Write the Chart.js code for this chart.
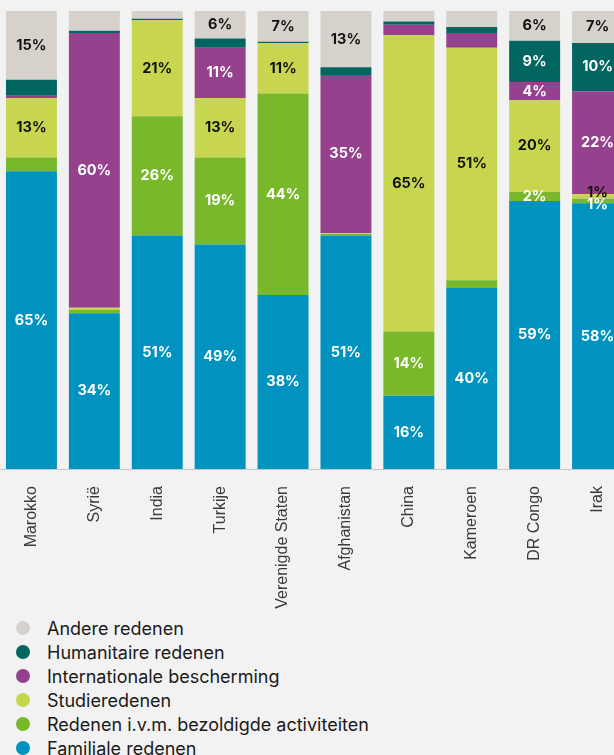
<!DOCTYPE html>
<html>
<head>
<meta charset="utf-8">
<script src="https://cdn.jsdelivr.net/npm/chart.js@4.4.1/dist/chart.umd.min.js"></script>
<style>
    html, body { margin: 0; padding: 0; background: #f2f2f2; overflow: hidden; width: 614px; height: 755px; }
    #wrap { width: 629px; height: 612px; position: relative; }
    #legend { list-style: none; margin: 4px 0 0 0; padding: 0 0 0 16px; font-family: "Inter"; font-size: 18px; color: #1a1a1a; }
    #legend li { height: 24px; display: flex; align-items: center; }
    #legend .dot { width: 14px; height: 14px; border-radius: 50%; margin-right: 17px; flex: none; }
</style>
</head>
<body>
<div id="wrap"><canvas id="chart"></canvas></div>
<ul id="legend"></ul>
<script>
const countries = ["Marokko", "Syrië", "India", "Turkije", "Verenigde Staten", "Afghanistan", "China", "Kameroen", "DR Congo", "Irak"];

// shares in %, bottom of the stack first
const familiale = [65, 34, 51, 49, 38, 51, 16, 39.5, 58.5, 58];
const bezoldigd = [3, 0.7, 26, 19, 44, 0.3, 14, 1.7, 2, 1];
const studie = [13, 0.5, 21, 13, 11, 0.2, 64.7, 50.8, 20, 1];
const internationaal = [0.5, 60, 0, 11, 0, 34.5, 2.3, 3.2, 4, 22.5];
const humanitair = [3.5, 0.5, 0.3, 2, 0.3, 1.7, 0.7, 1.3, 9, 10.5];
const andere = [15, 4.3, 1.7, 6, 6.7, 12.3, 2.3, 3.5, 6.5, 7];

// printed labels (null = none shown)
const familialeLabels = [65, 34, 51, 49, 38, 51, 16, 40, 59, 58];
const bezoldigdLabels = [null, null, 26, 19, 44, null, 14, null, 2, 1];
const studieLabels = [13, null, 21, 13, 11, null, 65, 51, 20, 1];
const internationaalLabels = [null, 60, null, 11, null, 35, null, null, 4, 22];
const humanitairLabels = [null, null, null, null, null, null, null, null, 9, 10];
const andereLabels = [15, null, null, 6, 7, 13, null, null, 6, 7];

const segmentLabels = {
    id: "segmentLabels",
    afterDatasetsDraw(chart) {
        const ctx = chart.ctx;
        ctx.save();
        ctx.font = "700 14.5px Inter";
        ctx.textAlign = "center";
        ctx.textBaseline = "middle";
        for (let i = 0; i < countries.length; i++) {
            let items = [];
            chart.data.datasets.forEach((ds, d) => {
                const v = ds.printed[i];
                if (v === null) return;
                const bar = chart.getDatasetMeta(d).data[i];
                items.push({ x: bar.x, y: (bar.y + bar.base) / 2, text: v + "%", color: ds.labelColor });
            });
            // keep labels from piling on each other
            items.sort((a, b) => a.y - b.y);
            for (let k = 1; k < items.length; k++) {
                const gap = items[k].y - items[k - 1].y;
                if (gap < 12) {
                    const shift = (12 - gap) / 2;
                    items[k - 1].y -= shift;
                    items[k].y += shift;
                }
            }
            for (const it of items) {
                ctx.fillStyle = it.color;
                ctx.fillText(it.text, it.x, it.y);
            }
        }
        ctx.restore();
    }
};

const htmlLegend = {
    id: "htmlLegend",
    afterUpdate(chart) {
        const ul = document.getElementById("legend");
        ul.innerHTML = chart.data.datasets.slice().reverse().map(
            ds => `<li><span class="dot" style="background:${ds.backgroundColor}"></span>${ds.label}</li>`
        ).join("");
    }
};

function series(label, data, printed, color, labelColor) {
    return { label, data, printed, backgroundColor: color, labelColor, borderWidth: 0 };
}

new Chart(document.getElementById("chart"), {
    type: "bar",
    data: {
        labels: countries,
        datasets: [
            series("Familiale redenen", familiale, familialeLabels, "#0093bf", "#fff"),
            series("Redenen i.v.m. bezoldigde activiteiten", bezoldigd, bezoldigdLabels, "#78b82a", "#fff"),
            series("Studieredenen", studie, studieLabels, "#c8d54f", "#111"),
            series("Internationale bescherming", internationaal, internationaalLabels, "#95418e", "#fff"),
            series("Humanitaire redenen", humanitair, humanitairLabels, "#00665f", "#fff"),
            series("Andere redenen", andere, andereLabels, "#d6d2cb", "#111")
        ]
    },
    options: {
        responsive: true,
        maintainAspectRatio: false,
        animation: false,
        layout: { padding: { top: 11, left: 0, right: 0, bottom: 0 } },
        categoryPercentage: 1,
        barPercentage: 0.81,
        plugins: {
            legend: { display: false },
            tooltip: { enabled: false }
        },
        scales: {
            x: {
                stacked: true,
                grid: { display: false },
                border: { color: "#c8c8c8", width: 1 },
                ticks: {
                    minRotation: 90,
                    maxRotation: 90,
                    padding: 9,
                    color: "#3a3a3a",
                    font: { family: "Liberation Sans", size: 16 }
                },
                afterFit(scale) { scale.height = 143; }
            },
            y: {
                stacked: true,
                display: false,
                min: 0,
                max: 100
            }
        }
    },
    plugins: [segmentLabels, htmlLegend]
});
</script>
</body>
</html>
